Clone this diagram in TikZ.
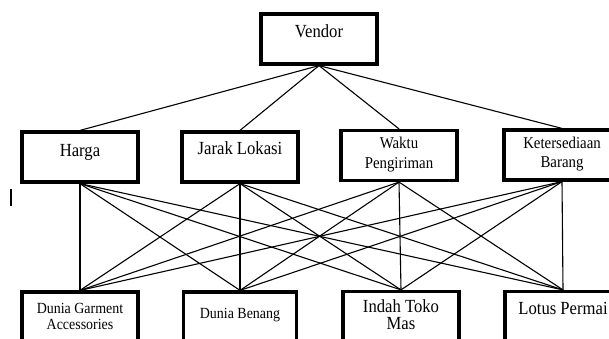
\documentclass[tikz,border=0pt]{standalone}
\usepackage{fontspec}
\setmainfont[FakeStretch=0.9]{Liberation Serif}
\begin{document}
\begin{tikzpicture}[x=1pt,y=-1pt,
  box/.style={draw, line width=3.2pt, minimum width=116pt, minimum height=50pt, inner sep=0pt},
  lbl/.style={anchor=base, inner sep=0pt},
  link/.style={line width=1.1pt},
  fa/.style={font=\fontsize{18.5}{20}\selectfont},
  fb/.style={font=\fontsize{16.5}{18}\selectfont},
  fc/.style={font=\fontsize{15.5}{17}\selectfont}]
\useasboundingbox (0,0) rectangle (609,339);
\clip (0,0) rectangle (609,339);
% boxes
\node[box] (vendor) at (319,39) {};
\node[box] (harga) at (80,157) {};
\node[box] (jarak) at (240,157) {};
\node[box] (waktu) at (399,155.5) {};
\node[box] (keter) at (562,155) {};
\node[box] (garment) at (80,317) {};
\node[box, minimum width=113pt] (benang) at (240,317) {};
\node[box] (indah) at (401,316.5) {};
\node[box] (lotus) at (563,316.5) {};
% labels
\node[lbl, fa] (tvendor) at (319,38) {Vendor};
\node[lbl, fa] (tharga) at (80,156) {Harga};
\node[lbl, fa] (tjarak) at (240,154) {Jarak Lokasi};
\node[lbl, fb] (twaktu1) at (399,149) {Waktu};
\node[lbl, fb] (twaktu2) at (399,168) {Pengiriman};
\node[lbl, fb] (tketer1) at (562,149) {Ketersediaan};
\node[lbl, fb] (tketer2) at (562,167) {Barang};
\node[lbl, fc] (tgarment1) at (80,313) {Dunia Garment};
\node[lbl, fc] (tgarment2) at (80,329) {Accessories};
\node[lbl, fc] (tbenang) at (240,318) {Dunia Benang};
\node[lbl, fa] (tindah1) at (401,312) {Indah Toko};
\node[lbl, fa] (tindah2) at (401,329) {Mas};
\node[lbl, fa] (tlotus) at (563,314) {Lotus Permai};
% connectors
\foreach \c in {harga,jarak,waktu,keter}
  \draw[link] (vendor.south) -- (\c.north);
\foreach \c in {harga,jarak,waktu,keter}
  \foreach \a in {garment,benang,indah,lotus}
    \draw[link] (\c.south) -- (\a.north);
% stray mark
\draw[line width=1.6pt] (11,189) -- (11,206);
\end{tikzpicture}
\end{document}
